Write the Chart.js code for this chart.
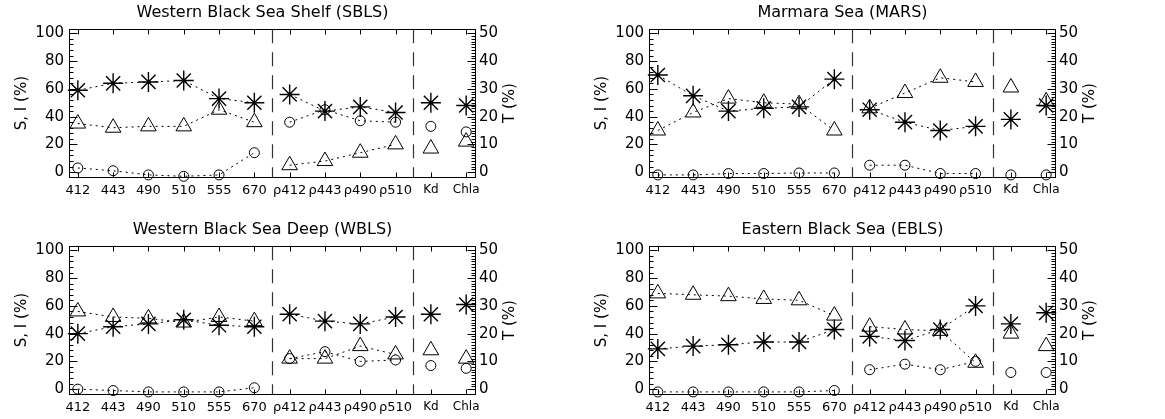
<!DOCTYPE html>
<html>
<head>
<meta charset="utf-8">
<script src="https://cdn.jsdelivr.net/npm/chart.js@4"></script>
<style>
  body { margin: 0; background: #fff; width: 1165px; height: 419px; position: relative; overflow: hidden; }
  canvas { position: absolute; }
</style>
</head>
<body>
<canvas id="sbls" width="525" height="205" style="left:0;top:0"></canvas>
<canvas id="mars" width="525" height="205" style="left:580px;top:0"></canvas>
<canvas id="wbls" width="525" height="205" style="left:0;top:217px"></canvas>
<canvas id="ebls" width="525" height="205" style="left:580px;top:217px"></canvas>
<script>
// Category labels and axis ticks
const categories = ["412", "443", "490", "510", "555", "670", "ρ412", "ρ443", "ρ490", "ρ510", "Kd", "Chla"];
const leftTicks = [0, 20, 40, 60, 80, 100];
const rightTicks = [0, 10, 20, 30, 40, 50];
const groupBreaks = [5.5, 9.5];

// S (asterisk), I (triangle) on left axis, T (circle) on right axis
const sblsS = [59, 64, 65, 66, 53, 50, 56, 44, 47, 43, 50, 48];
const sblsI = [35, 32, 33, 33, 45, 36, 5, 8, 14, 20, 17, 22];
const sblsT = [1.5, 0.5, -1, -1.5, -1, 7, 18, 22.5, 18.5, 18, 16.5, 14.5];

const marsS = [70, 55, 44, 46, 47, 67, 45, 36, 30, 33, 38, 48];
const marsI = [30, 43, 53, 50, 49, 30, 46, 57, 68, 65, 61, 51];
const marsT = [-1, -1, -0.5, -0.5, -0.3, -0.3, 2.5, 2.5, -0.5, -0.5, -1, -1];

const wblsS = [40, 45, 47, 50, 46, 45, 54, 49, 47, 52, 54, 61];
const wblsI = [56, 52, 51, 48, 52, 49, 22, 22, 31, 25, 28, 22];
const wblsT = [0, -0.5, -1, -1, -1, 0.5, 11, 13.5, 10, 10.5, 8.5, 7.5];

const eblsS = [29, 31, 32, 34, 34, 43, 38, 35, 43, 60, 47, 55];
const eblsI = [69, 68, 67, 65, 64, 53, 45, 43, 42, 19, 40, 31];
const eblsT = [-1, -1, -1, -1, -1, -0.5, 7, 9, 7, 10, 6, 6];

const FONT = "'DejaVu Sans', sans-serif";
Chart.defaults.color = "#000";
Chart.defaults.font.family = FONT;

// Box, inward ticks, group separators and axis titles
const framePlugin = {
  id: "frame",
  beforeDatasetsDraw(chart) {
    const { ctx, chartArea: a, scales } = chart;
    ctx.save();
    ctx.strokeStyle = "#333";
    ctx.lineWidth = 1.2;
    ctx.setLineDash([14, 9]);
    groupBreaks.forEach((b) => {
      const x = Math.round(scales.x.getPixelForValue(b)) + 0.5;
      ctx.beginPath();
      ctx.moveTo(x, a.top);
      ctx.lineTo(x, a.bottom);
      ctx.stroke();
    });
    ctx.restore();
  },
  afterDraw(chart) {
    const { ctx, chartArea: a, scales } = chart;
    ctx.save();
    ctx.strokeStyle = "#000";
    ctx.fillStyle = "#000";
    ctx.lineWidth = 1;
    ctx.setLineDash([]);
    const L = Math.round(a.left) + 0.5;
    const R = Math.round(a.right) + 0.5;
    const T = Math.round(a.top) + 0.5;
    const B = Math.round(a.bottom) + 0.5;
    ctx.strokeRect(L, T, R - L, B - T);

    ctx.beginPath();
    // left axis ticks
    for (let v = 0; v <= 100; v += 4) {
      const y = Math.round(scales.y.getPixelForValue(v)) + 0.5;
      ctx.moveTo(L, y);
      ctx.lineTo(L + 4, y);
    }
    leftTicks.forEach((v) => {
      const y = Math.round(scales.y.getPixelForValue(v)) + 0.5;
      ctx.moveTo(L, y);
      ctx.lineTo(L + 8, y);
    });
    // right axis ticks
    for (let v = 0; v <= 50; v += 1) {
      const y = Math.round(scales.yT.getPixelForValue(v)) + 0.5;
      const len = rightTicks.includes(v) ? 8 : 4;
      ctx.moveTo(R, y);
      ctx.lineTo(R - len, y);
    }
    // bottom and top ticks
    categories.forEach((c, i) => {
      const x = Math.round(scales.x.getPixelForValue(i)) + 0.5;
      ctx.moveTo(x, B);
      ctx.lineTo(x, B - 5);
      ctx.moveTo(x, T);
      ctx.lineTo(x, T + 5);
    });
    ctx.stroke();

    // axis titles, both reading bottom to top
    ctx.font = "15px " + FONT;
    ctx.textAlign = "center";
    ctx.textBaseline = "middle";
    const midY = (a.top + a.bottom) / 2;
    ctx.save();
    ctx.translate(22, midY);
    ctx.rotate(-Math.PI / 2);
    ctx.fillText("S, I (%)", 0, 0);
    ctx.restore();
    ctx.save();
    ctx.translate(a.right + 35, midY);
    ctx.rotate(-Math.PI / 2);
    ctx.fillText("T (%)", 0, 0);
    ctx.restore();
    ctx.restore();
  },
};

function toPoints(values) {
  return values.map((v, i) => ({ x: i, y: v }));
}

// hide the connecting line between groups
function groupSegment(ctx) {
  const i = ctx.p0DataIndex;
  return i === 5 || i >= 9 ? "transparent" : "#000";
}

function createPanel(canvasId, title, sVals, iVals, tVals) {
  const ctx = document.getElementById(canvasId).getContext("2d");
  const lineBase = {
    borderColor: "#000",
    borderWidth: 1,
    borderDash: [2, 4],
    backgroundColor: "transparent",
    pointBorderColor: "#000",
    pointBackgroundColor: "transparent",
    fill: false,
    clip: false,
    segment: { borderColor: groupSegment },
  };
  return new Chart(ctx, {
    type: "line",
    data: {
      datasets: [
        {
          ...lineBase,
          label: "S",
          data: toPoints(sVals),
          yAxisID: "y",
          pointStyle: "star",
          pointRadius: 10,
          pointBorderWidth: 1.4,
        },
        {
          ...lineBase,
          label: "I",
          data: toPoints(iVals),
          yAxisID: "y",
          pointStyle: "triangle",
          pointRadius: 9,
          pointBorderWidth: 1,
        },
        {
          ...lineBase,
          label: "T",
          data: toPoints(tVals),
          yAxisID: "yT",
          pointStyle: "circle",
          pointRadius: 5,
          pointBorderWidth: 1,
        },
      ],
    },
    options: {
      responsive: false,
      animation: false,
      devicePixelRatio: 1,
      layout: { padding: 0 },
      plugins: {
        legend: { display: false },
        tooltip: { enabled: false },
        title: {
          display: true,
          text: title,
          font: { size: 16, weight: "normal", family: FONT },
          padding: { top: 3, bottom: 7 },
        },
      },
      scales: {
        x: {
          type: "linear",
          min: -0.25,
          max: 11.25,
          grid: { display: false, drawTicks: false },
          border: { display: false },
          afterBuildTicks: (s) => {
            s.ticks = categories.map((c, i) => ({ value: i }));
          },
          afterFit: (s) => {
            s.height = 28;
          },
          ticks: {
            autoSkip: false,
            maxRotation: 0,
            padding: 6,
            font: (c) => ({ size: c.index >= 10 ? 12 : 13, family: FONT }),
            callback: (v) => categories[v],
          },
        },
        y: {
          position: "left",
          min: -3.5,
          max: 103,
          grid: { display: false, drawTicks: false },
          border: { display: false },
          afterBuildTicks: (s) => {
            s.ticks = leftTicks.map((v) => ({ value: v }));
          },
          afterFit: (s) => {
            s.width = 69;
          },
          ticks: { padding: 5, font: { size: 15, family: FONT } },
        },
        yT: {
          position: "right",
          min: -1.75,
          max: 51.5,
          grid: { display: false, drawTicks: false },
          border: { display: false },
          afterBuildTicks: (s) => {
            s.ticks = rightTicks.map((v) => ({ value: v }));
          },
          afterFit: (s) => {
            s.width = 50;
          },
          ticks: { padding: 4, font: { size: 15, family: FONT } },
        },
      },
    },
    plugins: [framePlugin],
  });
}

createPanel("sbls", "Western Black Sea Shelf (SBLS)", sblsS, sblsI, sblsT);
createPanel("mars", "Marmara Sea (MARS)", marsS, marsI, marsT);
createPanel("wbls", "Western Black Sea Deep (WBLS)", wblsS, wblsI, wblsT);
createPanel("ebls", "Eastern Black Sea (EBLS)", eblsS, eblsI, eblsT);
</script>
</body>
</html>
